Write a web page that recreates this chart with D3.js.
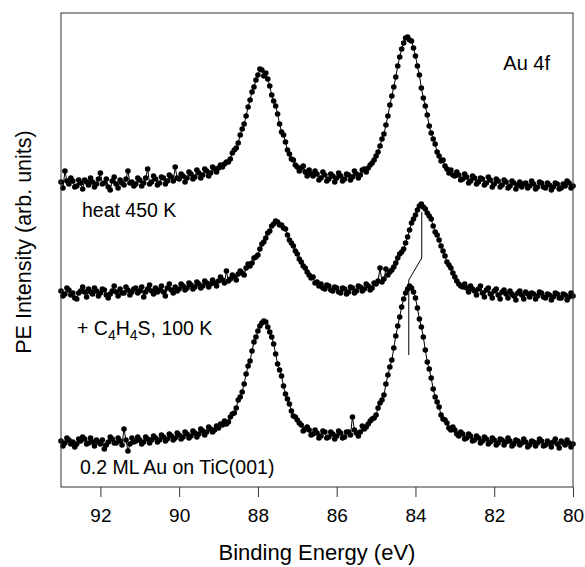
<!DOCTYPE html>
<html>
<head>
<meta charset="utf-8">
<script src="https://cdn.jsdelivr.net/npm/d3@7"></script>
<style>
  body { margin: 0; background: #fff; }
  text { font-family: "Liberation Sans", Arial, sans-serif; fill: #000; }
</style>
</head>
<body>
<div id="main"></div>
<script>
// energy grid: 93.0 eV down to 80.0 eV, 0.05 eV steps
const E_START = 93.0, E_STEP = 0.05;

const xTicks = [92, 90, 88, 86, 84, 82, 80];

// intensities (arb. units, already offset for stacking)
const topSpec = [
    305,299,316,306,303,309,306,300,301,307,304,298,307,305,302,309,305,300,303,308,
    314,303,304,308,300,297,306,310,303,299,307,304,302,308,316,304,305,301,303,309,
    307,301,304,309,318,303,305,311,308,302,304,310,309,303,306,312,310,306,320,309,
    308,313,311,305,309,315,313,308,310,317,314,309,312,318,316,311,314,320,318,315,
    319,322,320,323,325,325,328,334,337,339,344,352,358,363,371,380,387,395,400,407,
    412,418,417,411,414,408,401,392,386,381,373,363,355,352,345,337,333,328,327,322,
    320,316,319,321,315,311,317,313,311,316,313,307,309,315,312,306,308,313,311,305,
    309,314,311,306,308,313,312,307,310,316,313,309,312,317,318,315,319,322,324,327,
    331,335,341,348,353,362,371,382,391,400,410,421,430,438,444,449,450,447,446,439,
    431,421,412,399,389,381,372,361,354,348,343,335,331,326,327,321,318,314,317,312,
    311,315,312,307,308,313,310,304,306,311,309,303,305,309,308,302,304,310,307,300,
    303,308,306,300,302,307,305,299,301,306,304,298,302,305,300,303,304,299,301,306,
    303,298,300,305,304,300,299,304,302,297,300,304,303,298,299,303,301,306,304,299,
    301
];

const middleSpec = [
    196,191,193,199,197,192,194,189,188,194,196,200,195,190,198,195,193,199,196,191,
    194,198,197,192,189,193,196,201,195,191,198,194,194,200,197,192,195,198,199,194,
    196,200,190,195,198,202,196,193,199,195,197,201,195,191,199,203,197,194,200,196,
    198,203,201,197,199,204,202,198,200,205,203,199,201,206,204,200,203,207,204,201,
    206,210,207,204,216,206,208,212,210,207,213,216,214,212,219,223,221,224,229,230,
    232,238,243,245,249,254,256,261,263,266,265,262,262,259,258,252,247,244,241,236,
    233,228,225,221,219,215,212,209,210,204,205,201,203,199,198,202,201,197,196,200,
    199,195,194,199,198,193,195,200,199,194,196,201,200,196,198,203,201,197,199,204,
    203,206,219,205,208,218,212,215,217,220,224,229,233,235,238,244,250,257,264,268,
    272,277,281,283,280,278,274,271,268,261,255,252,247,241,236,231,225,222,219,214,
    210,206,203,201,200,203,199,195,201,198,196,192,198,201,194,190,197,199,193,189,
    196,198,192,188,195,197,193,189,196,193,191,187,194,196,192,188,195,193,190,194,
    193,188,191,195,194,190,189,193,192,187,190,194,193,189,189,193,192,187,190,194,
    191
];

const bottomSpec = [
    46,41,44,49,47,43,45,40,43,48,46,50,48,43,44,49,45,41,47,45,
    43,47,38,42,45,50,48,44,44,49,46,42,58,47,36,43,49,45,46,50,
    47,43,45,50,48,44,47,51,49,45,47,52,50,46,48,53,51,47,49,54,
    52,48,50,55,53,49,51,56,54,50,53,58,56,52,55,60,58,55,57,61,
    59,63,62,66,63,65,70,73,74,79,87,90,95,103,113,121,126,136,145,150,
    156,161,164,166,165,160,155,150,143,133,123,117,111,101,93,88,83,76,71,70,
    67,64,62,56,58,60,57,52,53,57,54,49,51,56,55,49,50,55,53,48,
    51,56,54,49,50,55,55,52,70,57,54,51,55,61,58,60,63,66,68,69,
    72,79,84,87,92,103,112,120,127,139,151,161,170,180,188,194,198,201,199,195,
    189,179,168,160,150,137,125,118,109,98,90,85,80,72,68,67,64,59,57,60,
    57,53,51,55,53,48,49,53,51,46,47,51,49,44,46,50,48,43,45,49,
    47,42,44,48,47,42,45,49,46,41,43,47,46,42,44,48,45,40,42,46,
    45,41,44,48,46,41,42,46,44,40,45,48,43,39,46,44,42,47,44,40,
    43
];

// peak-shift guide line (energy, intensity)
const guideE = [83.84, 83.84, 84.17, 84.17];
const guideI = [275, 229, 207, 132];

const spectra = [topSpec, middleSpec, bottomSpec];

const W = 585, H = 567;
const margin = { top: 13, right: 12, bottom: 80, left: 61 };

const svg = d3.select('#main')
    .append('svg')
    .attr('width', W)
    .attr('height', H);

const x = d3.scaleLinear().domain([93, 80]).range([margin.left, W - margin.right]);
const y = d3.scaleLinear().domain([0, 474]).range([H - margin.bottom, margin.top]);

const line = d3.line()
    .x(d => x(d.e))
    .y(d => y(d.v));

spectra.forEach(spec => {
    const pts = spec.map((v, i) => ({ e: +(E_START - i * E_STEP).toFixed(2), v: v }));
    const g = svg.append('g');
    g.append('path')
        .datum(pts)
        .attr('d', line)
        .attr('fill', 'none')
        .attr('stroke', '#000')
        .attr('stroke-width', 1);
    g.selectAll('circle')
        .data(pts)
        .enter()
        .append('circle')
        .attr('cx', d => x(d.e))
        .attr('cy', d => y(d.v))
        .attr('r', 2.8)
        .attr('fill', '#000');
});

// guide line
const guidePts = guideE.map((e, i) => ({ e: e, v: guideI[i] }));
svg.append('path')
    .datum(guidePts)
    .attr('d', line)
    .attr('fill', 'none')
    .attr('stroke', '#000')
    .attr('stroke-width', 1);

// frame
svg.append('rect')
    .attr('x', margin.left)
    .attr('y', margin.top)
    .attr('width', W - margin.right - margin.left)
    .attr('height', H - margin.bottom - margin.top)
    .attr('fill', 'none')
    .attr('stroke', '#333')
    .attr('stroke-width', 1);

// x axis
const xAxis = svg.append('g')
    .attr('transform', `translate(0,${H - margin.bottom})`)
    .call(d3.axisBottom(x).tickValues(xTicks).tickSize(10).tickPadding(12).tickFormat(d3.format('d')));
xAxis.select('.domain').remove();
xAxis.selectAll('line').attr('stroke', '#333');
xAxis.selectAll('text')
    .style('font-family', '"Liberation Sans", Arial, sans-serif')
    .style('font-size', '19px')
    .attr('fill', '#000');

// axis titles
svg.append('text')
    .attr('x', (margin.left + W - margin.right) / 2)
    .attr('y', 560)
    .attr('text-anchor', 'middle')
    .style('font-size', '22px')
    .text('Binding Energy (eV)');

svg.append('text')
    .attr('transform', 'translate(31,242) rotate(-90)')
    .attr('text-anchor', 'middle')
    .style('font-size', '21.5px')
    .text('PE Intensity (arb. units)');

// annotations
svg.append('text')
    .attr('x', 550).attr('y', 70)
    .attr('text-anchor', 'end')
    .style('font-size', '20px')
    .text('Au 4f');

svg.append('text')
    .attr('x', 82).attr('y', 217)
    .style('font-size', '19.5px')
    .text('heat 450 K');

const mid = svg.append('text')
    .attr('x', 77).attr('y', 335)
    .style('font-size', '19.5px');
mid.append('tspan').text('+ C');
mid.append('tspan').attr('dy', 5).style('font-size', '14px').text('4');
mid.append('tspan').attr('dy', -5).text('H');
mid.append('tspan').attr('dy', 5).style('font-size', '14px').text('4');
mid.append('tspan').attr('dy', -5).text('S, 100 K');

svg.append('text')
    .attr('x', 80).attr('y', 474)
    .style('font-size', '19.5px')
    .text('0.2 ML Au on TiC(001)');
</script>
</body>
</html>
